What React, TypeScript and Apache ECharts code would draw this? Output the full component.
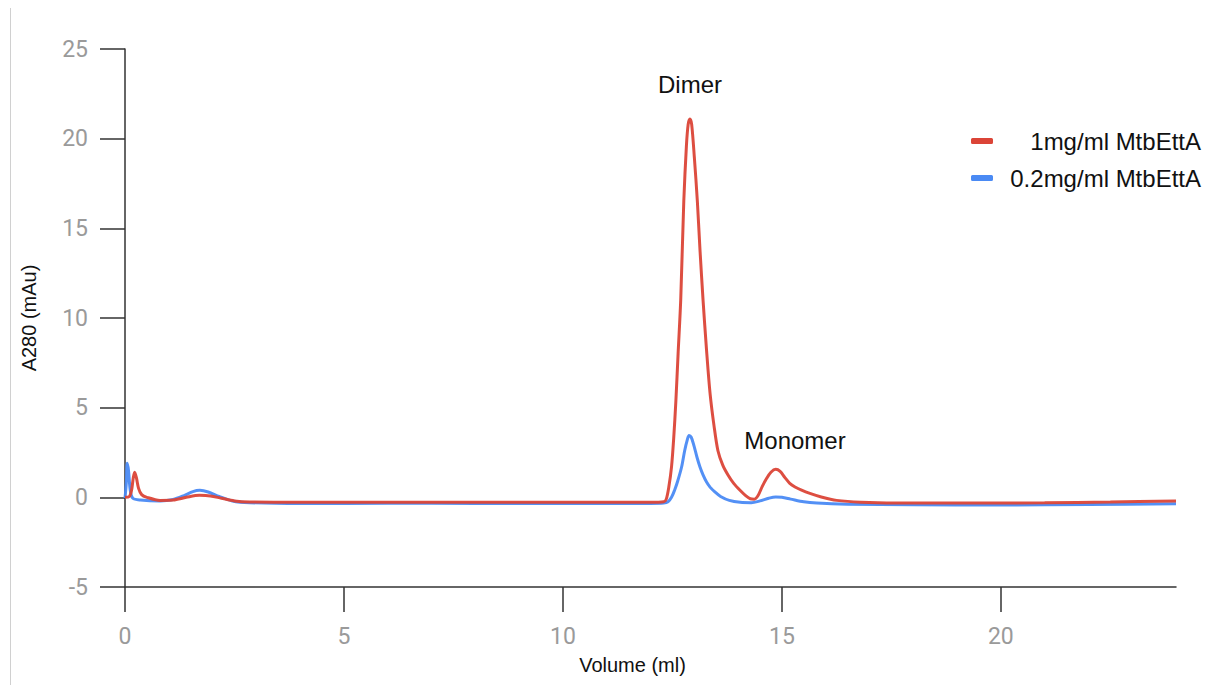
import React, { useEffect, useRef } from "react";
import * as echarts from "echarts";

const seriesNames = ["1mg/ml MtbEttA", "0.2mg/ml MtbEttA"];
const xTicks = [0, 5, 10, 15, 20];
const yTicks = [-5, 0, 5, 10, 15, 20, 25];

// [volume (ml), A280 (mAu)]
const red1mg: [number, number][] = [
  [0, 0.0], [0.1, 0.05], [0.15, 0.4], [0.19, 1.1], [0.22, 1.4], [0.26, 1.1], [0.31, 0.5],
  [0.38, 0.15], [0.5, 0.0], [0.8, -0.17], [1.1, -0.15], [1.4, 0.0], [1.7, 0.11],
  [1.95, 0.08], [2.2, -0.05], [2.5, -0.2], [2.85, -0.26], [4, -0.28], [6, -0.27],
  [8, -0.28], [10, -0.28], [12, -0.28], [12.3, -0.25], [12.36, -0.1], [12.42, 0.6],
  [12.48, 1.7], [12.53, 3.3], [12.58, 5.4], [12.63, 8.0], [12.69, 11.0], [12.76, 16.5],
  [12.82, 19.6], [12.86, 20.8], [12.9, 21.1], [12.94, 20.8], [13.0, 19.0], [13.07, 16.5],
  [13.13, 13.8], [13.2, 11.0], [13.28, 8.2], [13.36, 5.8], [13.45, 4.0], [13.54, 2.6],
  [13.65, 1.8], [13.77, 1.25], [13.9, 0.78], [14.05, 0.38], [14.18, 0.08], [14.28, -0.08],
  [14.37, -0.1], [14.46, 0.12], [14.55, 0.6], [14.65, 1.05], [14.75, 1.4], [14.86, 1.56],
  [14.96, 1.45], [15.07, 1.1], [15.18, 0.78], [15.3, 0.58], [15.45, 0.4], [15.64, 0.22],
  [15.9, 0.02], [16.25, -0.17], [16.8, -0.27], [18, -0.32], [19.5, -0.32], [21, -0.3],
  [22.5, -0.26], [24, -0.2],
];

const blue02mg: [number, number][] = [
  [0, -0.05], [0.03, 0.8], [0.05, 1.9], [0.08, 1.5], [0.12, 0.4], [0.18, -0.05],
  [0.35, -0.15], [0.8, -0.2], [1.1, -0.12], [1.35, 0.1], [1.55, 0.32], [1.71, 0.39],
  [1.9, 0.3], [2.15, 0.05], [2.45, -0.2], [2.85, -0.3], [4, -0.35], [6, -0.33],
  [8, -0.34], [10, -0.34], [12, -0.34], [12.3, -0.32], [12.4, -0.25], [12.48, 0.0],
  [12.55, 0.4], [12.62, 0.9], [12.71, 1.69], [12.78, 2.6], [12.84, 3.2], [12.88, 3.45],
  [12.93, 3.35], [12.99, 2.9], [13.06, 2.25], [13.13, 1.69], [13.2, 1.25], [13.28, 0.85],
  [13.36, 0.57], [13.47, 0.3], [13.6, 0.05], [13.8, -0.17], [14.05, -0.28], [14.3, -0.3],
  [14.5, -0.2], [14.7, -0.05], [14.86, 0.02], [15.0, 0.0], [15.2, -0.1], [15.5, -0.25],
  [15.8, -0.32], [16.5, -0.38], [18, -0.42], [20, -0.43], [22, -0.4], [24, -0.36],
];

const annotations = [
  { text: "Dimer", x: 690, y: 84 },
  { text: "Monomer", x: 795, y: 440 },
];

export default function App() {
  const ref = useRef<HTMLDivElement>(null);
  useEffect(() => {
    if (!ref.current) return;
    const chart = echarts.init(ref.current, null, { renderer: "svg" });
    const axisColor = "#333";
    const sans = "Liberation Sans, Arial, sans-serif";
    chart.setOption({
      animation: false,
      backgroundColor: "#fff",
      grid: { left: 125, right: 30, top: 49, bottom: 98, containLabel: false },
      legend: {
        orient: "vertical",
        left: 966,
        top: 124,
        itemWidth: 22,
        itemHeight: 6,
        itemGap: 13,
        icon: "roundRect",
        data: seriesNames,
        formatter: (name: string) => `{r|${name}}`,
        textStyle: {
          fontFamily: sans,
          fontSize: 24,
          color: "#111",
          rich: {
            r: {
              width: 203,
              align: "right",
              fontFamily: sans,
              fontSize: 24,
              color: "#111",
            },
          },
        },
      },
      xAxis: {
        type: "value",
        min: 0,
        max: 24,
        interval: 5,
        name: "Volume (ml)",
        nameLocation: "middle",
        nameGap: 68,
        nameTextStyle: {
          fontFamily: sans,
          fontSize: 20,
          color: "#111",
          padding: [0, 36, 0, 0],
        },
        axisLine: { onZero: false, lineStyle: { color: axisColor, width: 1.5 } },
        axisTick: { show: true, length: 25, customValues: xTicks, lineStyle: { color: axisColor, width: 1.5 } },
        axisLabel: {
          customValues: xTicks,
          margin: 38,
          fontFamily: "Roboto, sans-serif",
          fontSize: 23,
          color: "#9a9a9a",
        },
        splitLine: { show: false },
      },
      yAxis: {
        type: "value",
        min: -5,
        max: 25,
        interval: 5,
        name: "A280 (mAu)",
        nameLocation: "middle",
        nameGap: 86,
        nameRotate: 90,
        nameTextStyle: {
          fontFamily: sans,
          fontSize: 20,
          color: "#111",
        },
        axisLine: { show: true, lineStyle: { color: axisColor, width: 1.5 } },
        axisTick: { show: true, length: 25, lineStyle: { color: axisColor, width: 1.5 } },
        axisLabel: {
          margin: 37,
          fontFamily: "Roboto, sans-serif",
          fontSize: 23,
          color: "#9a9a9a",
          formatter: (v: number) => (yTicks.includes(v) ? String(v) : ""),
        },
        splitLine: { show: false },
      },
      series: [
        {
          name: seriesNames[1],
          type: "line",
          data: blue02mg,
          showSymbol: false,
          smooth: 0.3,
          lineStyle: { color: "#4a8af4", width: 3, opacity: 0.95 },
          itemStyle: { color: "#4a8af4" },
          z: 2,
        },
        {
          name: seriesNames[0],
          type: "line",
          data: red1mg,
          showSymbol: false,
          smooth: 0.3,
          lineStyle: { color: "#db4437", width: 3, opacity: 0.95 },
          itemStyle: { color: "#db4437" },
          z: 3,
        },
      ],
      graphic: [
        {
          type: "line",
          shape: { x1: 10.5, y1: 8, x2: 10.5, y2: 685 },
          style: { stroke: "#d0d0d0", lineWidth: 1 },
          silent: true,
        },
        ...annotations.map((a) => ({
          type: "text",
          x: a.x,
          y: a.y,
          style: {
            text: a.text,
            fill: "#111",
            fontFamily: sans,
            fontSize: 24,
            textAlign: "center",
            textVerticalAlign: "middle",
          },
        })),
      ],
    });
    return () => chart.dispose();
  }, []);
  return (
    <div
      ref={ref}
      style={{ position: "fixed", left: 0, top: 0, width: 1206, height: 685 }}
    />
  );
}
